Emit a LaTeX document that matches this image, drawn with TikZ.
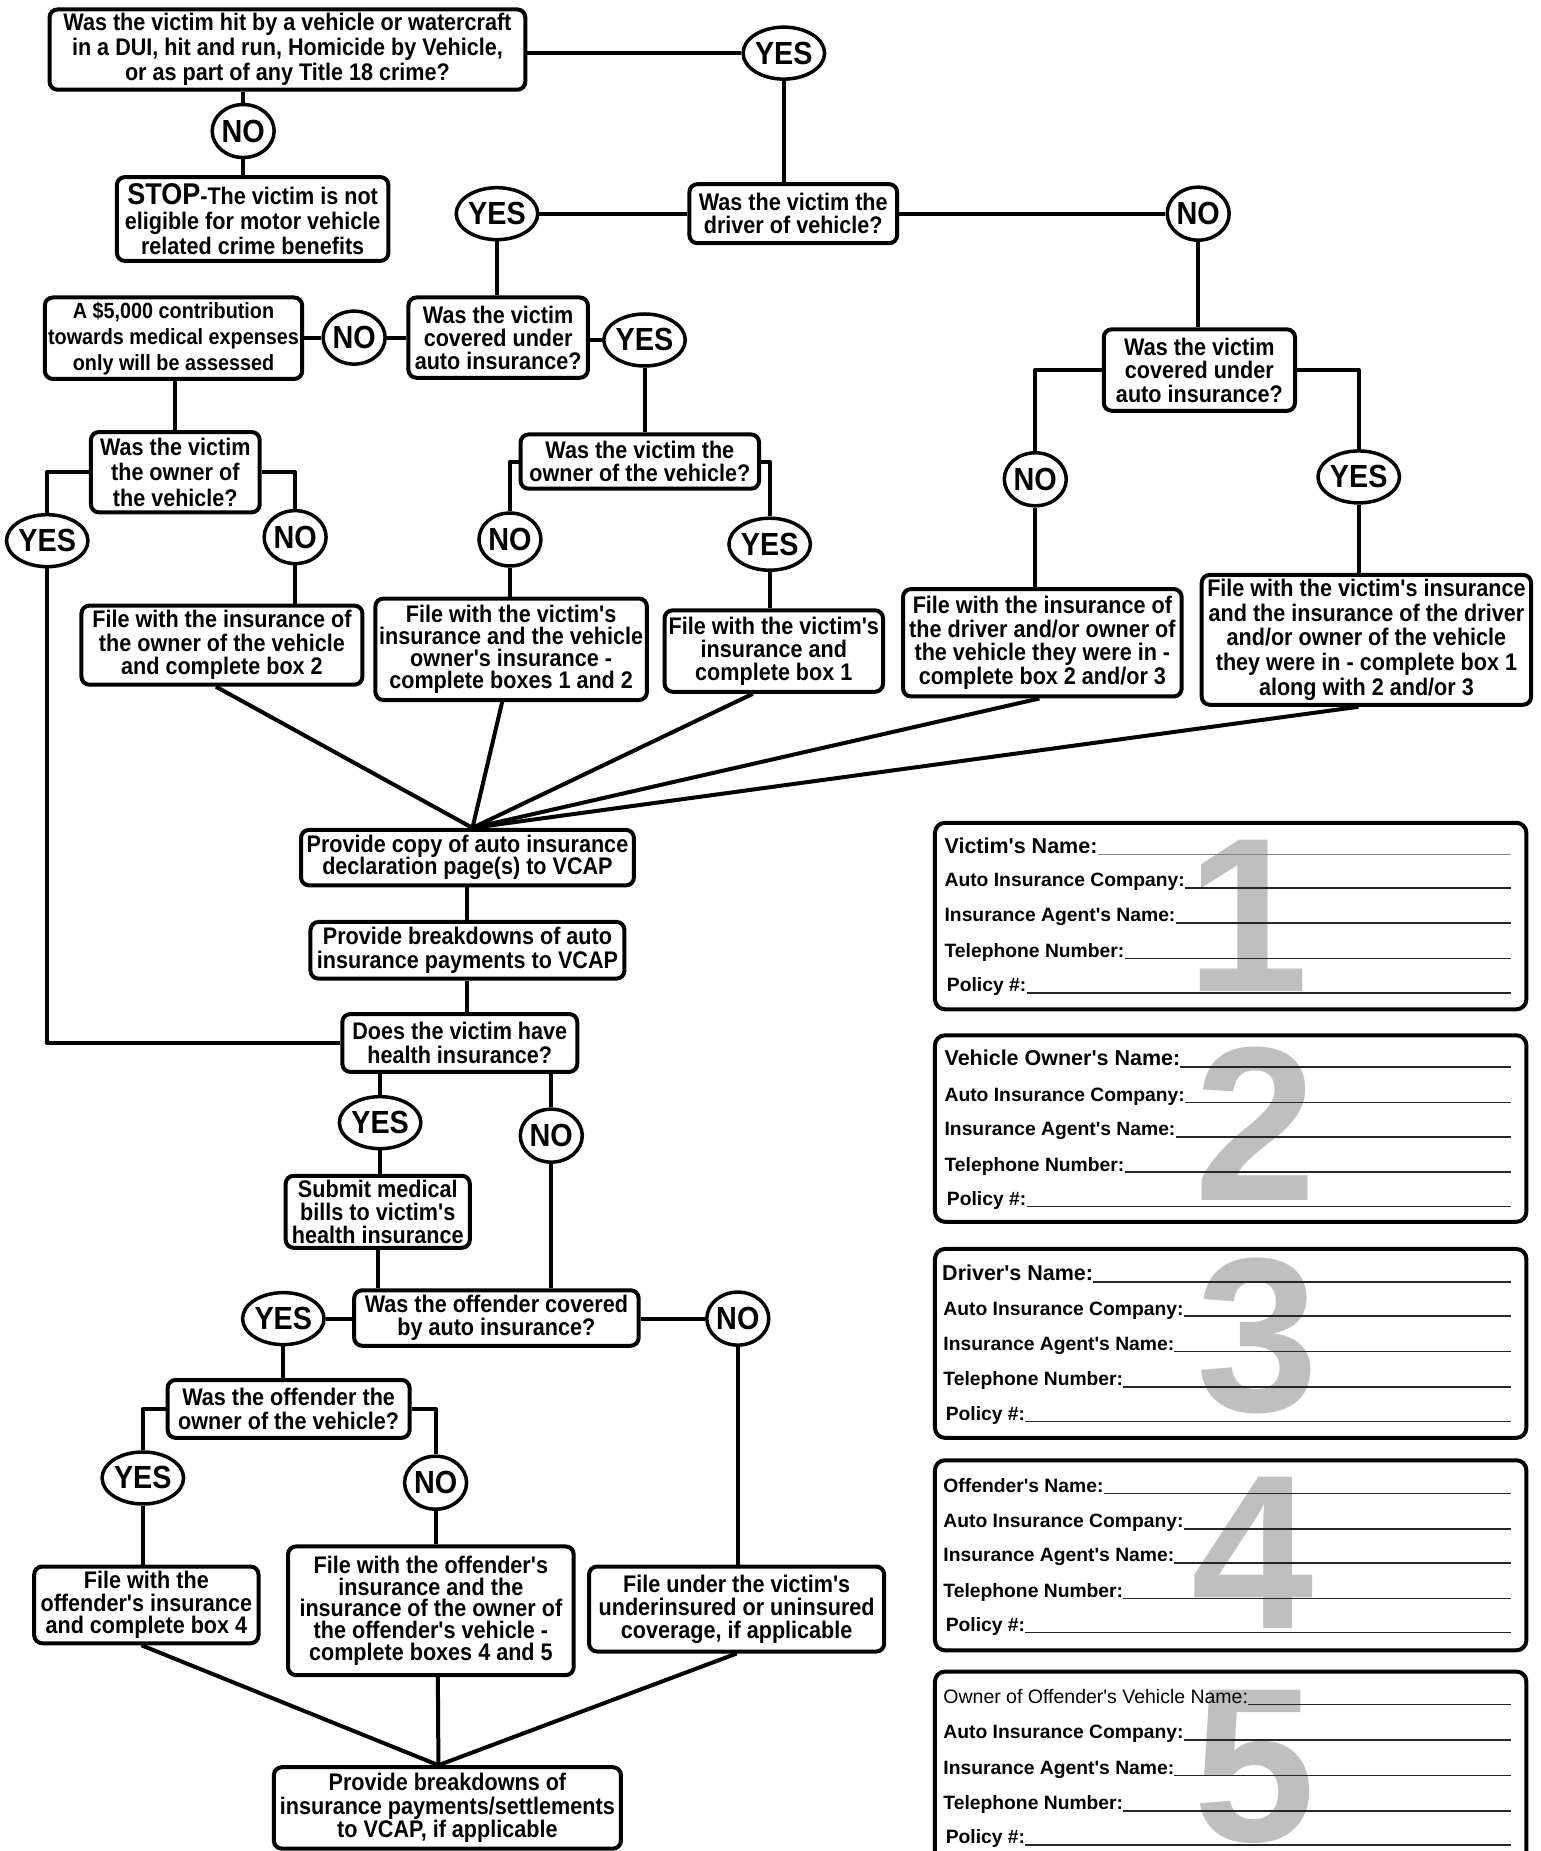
\documentclass[tikz,border=0pt]{standalone}
\usepackage{fontspec}
\usetikzlibrary{shapes.geometric,calc}
\newfontfamily\nar{Liberation Sans}[FakeStretch=0.9]
\newfontfamily\frm{Liberation Sans}
\tikzset{
  bx/.style={draw, line width=4pt, rounded corners=8pt, align=center, inner sep=0pt, fill=white,
    font=\nar\bfseries\fontsize{24}{23.5}\selectfont},
  lsp/.style={font=\nar\bfseries\fontsize{24}{#1}\selectfont},
  yesn/.style={draw, ellipse, line width=3.5pt, fill=white, minimum width=80pt, minimum height=52pt,
    inner sep=0pt, font=\nar\bfseries\fontsize{32}{32}\selectfont},
  non/.style={yesn, minimum width=62pt, minimum height=53pt},
  conn/.style={line width=4pt, line join=round},
  fbox/.style={draw, line width=4pt, rounded corners=10pt, inner sep=0pt},
  numeral/.style={text=black!25, inner sep=0pt, font=\frm\bfseries\fontsize{220}{220}\selectfont},
  frow/.style={anchor=base west, inner sep=0pt, font=\frm\bfseries\fontsize{19.3}{19.3}\selectfont},
  frowbig/.style={frow, font=\frm\bfseries\fontsize{21.5}{21.5}\selectfont},
  uline/.style={line width=1.6pt, black!85}
}
\newcommand\bx[7][]{\node[bx,minimum width={(#5-#3)*1.1808},minimum height={(#6-#4)*1.1808},#1] (#2) at ({(#3+#5)/2},{(#4+#6)/2}) {#7};}
\newcommand\yesc[3]{\node[yesn] (#1) at (#2,#3) {YES};}
\newcommand\noc[3]{\node[non] (#1) at (#2,#3) {NO};}
\newcommand\fbx[3]{\node[fbox,minimum width={(1293-792)*1.1808},minimum height={(#3-#2)*1.1808}] (#1) at ({(792+1293)/2},{(#2+#3)/2}) {};}
\newcommand\frw[6][frow]{\node[#1] (#2) at (#3,#4) {#5}; \draw[uline,#6] ([yshift=-1.2pt]#2.base east) -- ([yshift=-1.2pt]#2.base east -| fbr);}
\begin{document}
\begin{tikzpicture}[x=1.1808pt,y=-1.1808pt]
\useasboundingbox (0,0) rectangle (1305,1568);
\begin{scope}
\clip (0,0) rectangle (1305,1568);
% ---------- flow boxes ----------
\bx[lsp=24.8]{Q1}{42}{8}{445}{76}{Was the victim hit by a vehicle or watercraft\\in a DUI, hit and run, Homicide by Vehicle,\\or as part of any Title 18 crime?}
\bx[lsp=24.8]{STOP}{99}{150}{329}{221}{{\fontsize{30}{30}\selectfont STOP}-The victim is not\\eligible for motor vehicle\\related crime benefits}
\bx{Q2}{584}{156}{760}{206}{Was the victim the\\driver of vehicle?}
\bx[lsp=23]{Q3}{346}{252}{498}{320}{Was the victim\\covered under\\auto insurance?}
\bx[font=\nar\bfseries\fontsize{22}{26}\selectfont]{A}{38}{252}{256}{321}{A \$5,000 contribution\\towards medical expenses\\only will be assessed}
\bx{Q4}{935}{279}{1097}{348}{Was the victim\\covered under\\auto insurance?}
\bx[lsp=25.4]{Q6}{77}{366}{220}{434}{Was the victim\\the owner of\\the vehicle?}
\bx[lsp=22.4]{Q5}{441}{368}{643}{414}{Was the victim the\\owner of the vehicle?}
\bx{B}{69}{513}{307}{580}{File with the insurance of\\the owner of the vehicle\\and complete box 2}
\bx[lsp=22]{C}{318}{507}{548}{593}{File with the victim's\\insurance and the vehicle\\owner's insurance -\\complete boxes 1 and 2}
\bx[lsp=23]{D}{563}{517}{748}{586}{File with the victim's\\insurance and\\complete box 1}
\bx{E}{765}{499}{1001}{590}{File with the insurance of\\the driver and/or owner of\\the vehicle they were in -\\complete box 2 and/or 3}
\bx[lsp=24.8]{F}{1018}{487}{1297}{597}{File with the victim's insurance\\and the insurance of the driver\\and/or owner of the vehicle\\they were in - complete box 1\\along with 2 and/or 3}
\bx[lsp=22.4]{P1}{255}{703}{537}{750}{Provide copy of auto insurance\\declaration page(s) to VCAP}
\bx{P2}{263}{781}{529}{829}{Provide breakdowns of auto\\insurance payments to VCAP}
\bx[lsp=24.8]{Q8}{290}{859}{489}{908}{Does the victim have\\health insurance?}
\bx[lsp=23]{G}{242}{996}{398}{1057}{Submit medical\\bills to victim's\\health insurance}
\bx{Q9}{300}{1093}{541}{1140}{Was the offender covered\\by auto insurance?}
\bx[lsp=24.8]{Q10}{142}{1169}{347}{1218}{Was the offender the\\owner of the vehicle?}
\bx[lsp=22.4]{H}{29}{1327}{219}{1392}{File with the\\offender's insurance\\and complete box 4}
\bx[lsp=22]{I}{244}{1310}{486}{1419}{File with the offender's\\insurance and the\\insurance of the owner of\\the offender's vehicle -\\complete boxes 4 and 5}
\bx[lsp=23]{J}{499}{1327}{749}{1399}{File under the victim's\\underinsured or uninsured\\coverage, if applicable}
\bx{P3}{232}{1497}{526}{1566}{Provide breakdowns of\\insurance payments/settlements\\to VCAP, if applicable}
% ---------- yes / no ----------
\yesc{YES1}{664}{45}
\noc{NO1}{206}{111}
\yesc{YES2}{421}{181}
\noc{NO2}{1015}{181}
\noc{NO3}{300}{286}
\yesc{YES3}{546}{288}
\yesc{YES4}{40}{458}
\noc{NO4}{250}{455}
\noc{NO5}{432}{457}
\yesc{YES5}{652}{461}
\noc{NO6}{877}{406}
\yesc{YES6}{1151}{404}
\yesc{YES7}{322}{951}
\noc{NO7}{467}{962}
\yesc{YES8}{240}{1117}
\noc{NO8}{625}{1117}
\yesc{YES9}{121}{1252}
\noc{NO9}{369}{1256}
% ---------- connectors ----------
\draw[conn] (Q1.east |- YES1) -- (YES1.west);
\draw[conn] (YES1.south) -- (YES1 |- Q2.north);
\draw[conn] (NO1 |- Q1.south) -- (NO1.north);
\draw[conn] (NO1.south) -- (NO1 |- STOP.north);
\draw[conn] (Q2.west |- YES2) -- (YES2.east);
\draw[conn] (Q2.east |- NO2) -- (NO2.west);
\draw[conn] (YES2.south) -- (YES2 |- Q3.north);
\draw[conn] (NO2.south) -- (NO2 |- Q4.north);
\draw[conn] (Q3.west |- NO3) -- (NO3.east);
\draw[conn] (NO3.west) -- (A.east |- NO3);
\draw[conn] (Q3.east |- YES3) -- (YES3.west);
\draw[conn] (YES3.south) -- (YES3 |- Q5.north);
\draw[conn] (A.south -| Q6.north) -- (Q6.north);
\draw[conn] (Q6.west) -| (YES4.north);
\draw[conn] (Q6.east) -| (NO4.north);
\draw[conn] (NO4.south) -- (NO4 |- B.north);
\draw[conn] (YES4.south) |- (Q8.west);
\draw[conn] (Q5.west) -| (NO5.north);
\draw[conn] (Q5.east) -| (YES5.north);
\draw[conn] (NO5.south) -- (NO5 |- C.north);
\draw[conn] (YES5.south) -- (YES5 |- D.north);
\draw[conn] (Q4.west) -| (NO6.north);
\draw[conn] (Q4.east) -| (YES6.north);
\draw[conn] (NO6.south) -- (NO6 |- E.north);
\draw[conn] (YES6.south) -- (YES6 |- F.north);
\coordinate (cv) at ([xshift=5pt]P1.north);
\draw[conn] ([xshift=-6pt]B.south) -- (cv);
\draw[conn] ([xshift=-9pt]C.south) -- (cv);
\draw[conn] ([xshift=-21pt]D.south) -- (cv);
\draw[conn] ([xshift=-3pt]E.south) -- (cv);
\draw[conn] ([xshift=-8pt]F.south) -- (cv);
\draw[conn] (P1.south) -- (P2.north);
\draw[conn] (P2.south) -- (P2.south |- Q8.north);
\draw[conn] (YES7 |- Q8.south) -- (YES7.north);
\draw[conn] (YES7.south) -- (YES7 |- G.north);
\draw[conn] (NO7 |- Q8.south) -- (NO7.north);
\draw[conn] (NO7.south) -- (NO7 |- Q9.north);
\draw[conn] (G.south) -- (G.south |- Q9.north);
\draw[conn] (Q9.west |- YES8) -- (YES8.east);
\draw[conn] (Q9.east |- NO8) -- (NO8.west);
\draw[conn] (YES8.south) -- (YES8 |- Q10.north);
\draw[conn] (NO8.south) -- (NO8 |- J.north);
\draw[conn] (Q10.west) -| (YES9.north);
\draw[conn] (Q10.east) -| (NO9.north);
\draw[conn] (YES9.south) -- (YES9 |- H.north);
\draw[conn] (NO9.south) -- (NO9 |- I.north);
\coordinate (cv2) at ([xshift=-9pt]P3.north);
\draw[conn] ([xshift=-5pt]H.south) -- (cv2);
\draw[conn] ([xshift=7pt]I.south) -- (cv2);
\draw[conn] (J.south) -- (cv2);
% ---------- form boxes ----------
\coordinate (fbr) at (1280,0);
\fbx{fb1}{697}{855}
\fbx{fb2}{877}{1035}
\fbx{fb3}{1058}{1218}
\fbx{fb4}{1237}{1398}
\fbx{fb5}{1416}{1600}
\node[numeral] (n1) at (1057,776) {1};
\node[numeral] (n2) at (1064,952) {2};
\node[numeral] (n3) at (1065,1132) {3};
\node[numeral] (n4) at (1061,1315) {4};
\node[numeral] (n5) at (1063,1497) {5};
% box 1
\frw[frowbig]{r1a}{800}{723}{Victim's Name:}{line width=1pt,black!50}
\frw{r1b}{800}{751}{Auto Insurance Company:~}{}
\frw{r1c}{800}{781}{Insurance Agent's Name:}{}
\frw{r1d}{800}{811}{Telephone Number:}{}
\frw{r1e}{802}{840}{Policy \#:}{}
% box 2
\frw[frowbig]{r2a}{800}{903}{Vehicle Owner's Name:~}{}
\frw{r2b}{800}{933}{Auto Insurance Company:~}{}
\frw{r2c}{800}{962}{Insurance Agent's Name:}{}
\frw{r2d}{800}{992}{Telephone Number:}{}
\frw{r2e}{802}{1021}{Policy \#:}{}
% box 3
\frw[frowbig]{r3a}{798}{1085}{Driver's Name:}{}
\frw{r3b}{799}{1114}{Auto Insurance Company:~}{}
\frw{r3c}{799}{1144}{Insurance Agent's Name:}{}
\frw{r3d}{799}{1174}{Telephone Number:}{}
\frw{r3e}{801}{1203}{Policy \#:}{}
% box 4
\frw{r4a}{799}{1264}{Offender's Name:}{}
\frw{r4b}{799}{1294}{Auto Insurance Company:~}{}
\frw{r4c}{799}{1323}{Insurance Agent's Name:}{}
\frw{r4d}{799}{1353}{Telephone Number:}{}
\frw{r4e}{801}{1382}{Policy \#:}{}
% box 5
\frw[frow,font=\frm\fontsize{19.5}{19.5}\selectfont]{r5a}{799}{1443}{Owner of Offender's Vehicle Name:}{}
\frw{r5b}{799}{1473}{Auto Insurance Company:~}{}
\frw{r5c}{799}{1503}{Insurance Agent's Name:}{}
\frw{r5d}{799}{1533}{Telephone Number:}{}
\frw{r5e}{801}{1562}{Policy \#:}{}
\end{scope}
\end{tikzpicture}
\end{document}
